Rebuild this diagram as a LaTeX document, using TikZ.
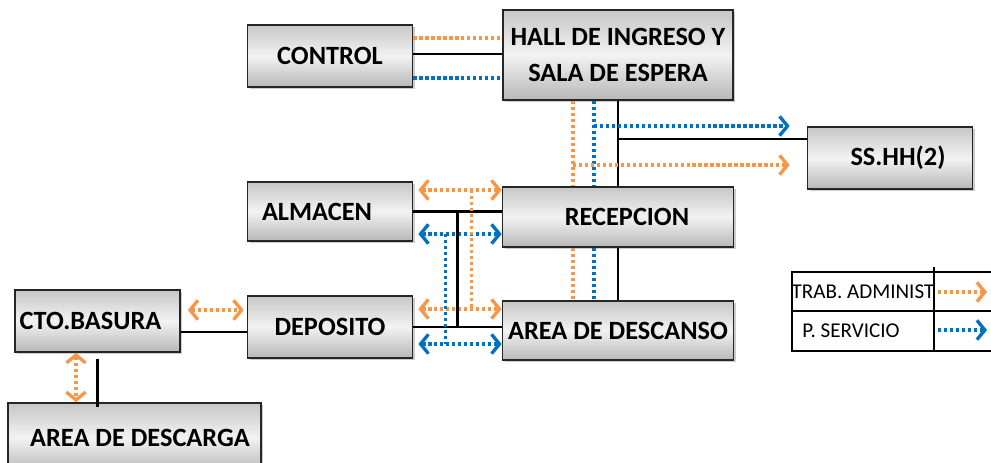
\documentclass[tikz,border=0pt]{standalone}
\usepackage{fontspec}
\setmainfont{Carlito}
\usepackage{tikz}
\usetikzlibrary{arrows.meta, positioning, shadows, calc}
\definecolor{trabcol}{RGB}{247,150,70}
\definecolor{servcol}{RGB}{0,112,192}

\begin{document}
\begin{tikzpicture}[
    x=0.02cm, y=-0.02cm,
    room/.style={rectangle, draw=black!85, line width=1pt, top color=black!22, bottom color=black!28, middle color=black!5, drop shadow={shadow xshift=1.2pt, shadow yshift=-1.2pt, opacity=0.4}, align=center, font=\fontsize{15}{21}\selectfont\bfseries, minimum width=3.3cm, minimum height=1.24cm, inner sep=1pt},
    wall/.style={line width=1.4pt, draw=black},
    trab/.style={draw=trabcol, line width=2pt, dash pattern=on 1.9pt off 1.5pt},
    serv/.style={draw=servcol, line width=2pt, dash pattern=on 1.9pt off 1.5pt},
    both/.style={<->, >={Straight Barb[length=4.5pt, width=11pt, line width=1.9pt]}},
    one/.style={->, >={Straight Barb[length=4.5pt, width=11pt, line width=1.9pt]}},
    legtext/.style={font=\fontsize{12}{14}\selectfont, inner sep=0pt},
]
\path[use as bounding box] (0,0) rectangle (991,463);
\clip (0,0) rectangle (991,463);

% Rooms
\node[room] (control) at (330,56) {CONTROL};
\node[room, minimum width=4.6cm, minimum height=1.8cm] (hall) at (618,55) {HALL DE INGRESO Y\\SALA DE ESPERA};
\node[room] (sshh) at (890,158) {\hspace*{0.32cm}SS.HH(2)};
\node[room, minimum height=1.18cm] (almacen) at (330,211.5) {\hspace*{-0.52cm}ALMACEN};
\node[room, minimum width=4.62cm, minimum height=1.2cm] (recepcion) at (618,217) {\hspace*{0.36cm}RECEPCION};
\node[room] (basura) at (97.5,321) {\hspace*{-0.28cm}CTO.BASURA};
\node[room] (deposito) at (330,327) {DEPOSITO};
\node[room, minimum width=4.62cm, minimum height=1.18cm] (descanso) at (618,330.5) {AREA DE DESCANSO};
\node[room, minimum width=5.06cm, minimum height=1.38cm] (descarga) at (134.5,437.5) {\hspace*{0.22cm}AREA DE DESCARGA};

% Control - Hall
\draw[trab] ([yshift=0.36cm]control.east) -- ([yshift=0.36cm]control.east -| hall.west);
\draw[wall] ([yshift=0.04cm]control.east) -- ([yshift=0.04cm]control.east -| hall.west);
\draw[serv] ([yshift=-0.44cm]control.east) -- ([yshift=-0.44cm]control.east -| hall.west);

% Hall - Recepcion - Descanso
\coordinate (tv) at ([xshift=-0.9cm]hall.south);
\coordinate (sv) at ([xshift=-0.48cm]hall.south);
\draw[wall] (hall.south) -- (recepcion.north);
\draw[wall] (recepcion.south) -- (descanso.north);
\draw[trab] (tv) -- ([xshift=-0.9cm]recepcion.north);
\draw[trab] ([xshift=-0.9cm]recepcion.south) -- ([xshift=-0.9cm]descanso.north);
\draw[serv] (sv) -- ([xshift=-0.48cm]recepcion.north);
\draw[serv] ([xshift=-0.48cm]recepcion.south) -- ([xshift=-0.48cm]descanso.north);

% Hall - SS.HH
\coordinate (sb) at ([xshift=-0.34cm, yshift=0.64cm]sshh.west);
\coordinate (tb) at ([xshift=-0.34cm, yshift=-0.14cm]sshh.west);
\draw[serv, one] (sb -| sv) -- (sb);
\draw[wall] ([yshift=0.38cm]sshh.west) -- ([yshift=0.38cm]sshh.west -| hall.south);
\draw[trab, one] (tb -| tv) -- (tb);

% Almacen / Deposito - Recepcion / Descanso
\coordinate (at) at ([yshift=0.43cm]almacen.east);
\coordinate (as) at ([yshift=-0.45cm]almacen.east);
\coordinate (dt) at ([yshift=0.36cm]deposito.east);
\coordinate (ds) at ([yshift=-0.34cm]deposito.east);
\draw[trab, both, shorten <=0.1cm] (at) -- (at -| recepcion.west);
\draw[wall] (almacen.east) -- (almacen.east -| recepcion.west);
\draw[serv, both, shorten <=0.1cm] (as) -- (as -| recepcion.west);
\draw[trab, both, shorten <=0.1cm] (dt) -- (dt -| descanso.west);
\draw[wall] (deposito.east) -- (deposito.east -| descanso.west);
\draw[serv, both, shorten <=0.1cm] (ds) -- (ds -| descanso.west);
\draw[trab] ([xshift=1.16cm]at) -- ([xshift=1.16cm]dt);
\draw[serv] ([xshift=0.64cm]as) -- ([xshift=0.64cm]ds);
\draw[wall] ([xshift=0.88cm]almacen.east) -- ([xshift=0.88cm]deposito.east);

% Basura - Deposito
\draw[trab, both, shorten <=0.14cm, shorten >=0.06cm] ([yshift=0.22cm]basura.east) -- ([yshift=0.22cm]basura.east -| deposito.west);
\draw[wall] ([yshift=-0.22cm]basura.east) -- ([yshift=-0.22cm]basura.east -| deposito.west);

% Basura - Descarga
\coordinate (bt) at ([xshift=-0.43cm]basura.south);
\draw[trab, both] (bt) -- (descarga.north -| bt);
\draw[wall] ([yshift=-0.12cm]basura.south) -- ([yshift=-0.1cm]descarga.north -| basura.south);

% Legend
\draw[line width=1.2pt] (792,272) rectangle (1000,351);
\draw[line width=1.2pt] (792,311) -- (1000,311);
\draw[line width=1.2pt] (934,267) -- (934,351);
\node[legtext] (lgtrab) at (863,291.5) {TRAB. ADMINIST};
\node[legtext] (lgserv) at (851,330.5) {P. SERVICIO};
\coordinate (lt) at (938,292);
\coordinate (ls) at (938,330);
\draw[trab, one] (lt) -- ++(0.98cm,0);
\draw[serv, one] (ls) -- ++(0.98cm,0);

\end{tikzpicture}
\end{document}
